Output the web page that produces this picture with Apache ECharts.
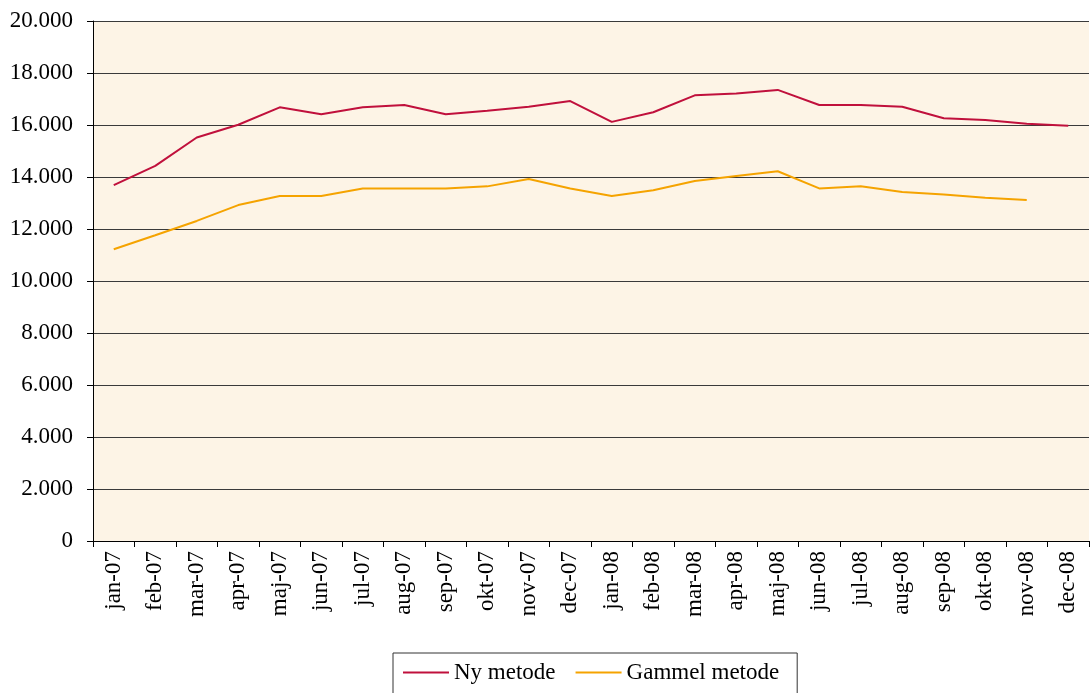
<!DOCTYPE html>
<html>
<head>
<meta charset="utf-8">
<script src="https://cdn.jsdelivr.net/npm/echarts@6/dist/echarts.min.js"></script>
<style>
  html, body { margin: 0; padding: 0; background: #ffffff; }
  #chart { width: 1090px; height: 693px; }
</style>
</head>
<body>
<div id="chart"></div>
<script>
var months = ["jan-07", "feb-07", "mar-07", "apr-07", "maj-07", "jun-07", "jul-07", "aug-07",
  "sep-07", "okt-07", "nov-07", "dec-07", "jan-08", "feb-08", "mar-08", "apr-08",
  "maj-08", "jun-08", "jul-08", "aug-08", "sep-08", "okt-08", "nov-08", "dec-08"];

var nyMetode = [13690, 14430, 15520, 16010, 16680, 16410, 16680, 16770, 16410, 16550, 16700, 16920,
  16120, 16490, 17140, 17210, 17350, 16770, 16770, 16700, 16260, 16190, 16050, 15970];

var gammelMetode = [11220, 11760, 12310, 12920, 13270, 13270, 13560, 13560, 13560, 13640, 13920, 13560,
  13270, 13490, 13850, 14040, 14220, 13560, 13640, 13420, 13330, 13200, 13120, null];

var seriesNames = ["Ny metode", "Gammel metode"];

var serif = "'Liberation Serif', 'DejaVu Serif', serif";

function dots(v) {
  return String(v).replace(/\B(?=(\d{3})+(?!\d))/g, ".");
}

var chart = echarts.init(document.getElementById("chart"));
chart.setOption({
  animation: false,
  backgroundColor: "#ffffff",
  grid: {
    left: 93, top: 21, right: 1, bottom: 152,
    show: true, backgroundColor: "#fdf4e6", borderWidth: 0
  },
  legend: {
    data: seriesNames,
    left: 393, top: 653,
    icon: "rect", itemWidth: 46, itemHeight: 2, itemGap: 20,
    padding: [8, 18, 12, 10],
    borderColor: "#333333", borderWidth: 1,
    textStyle: { fontFamily: serif, fontSize: 23, color: "#000000" }
  },
  xAxis: {
    type: "category",
    data: months,
    boundaryGap: true,
    axisLine: { lineStyle: { color: "#000000", width: 1 } },
    axisTick: { show: true, interval: 0, length: 6, lineStyle: { color: "#000000" } },
    axisLabel: {
      interval: 0, rotate: 90, margin: 10,
      fontFamily: serif, fontSize: 23, color: "#000000"
    },
    splitLine: { show: false }
  },
  yAxis: {
    type: "value",
    min: 0, max: 20000, interval: 2000,
    axisLine: { show: true, lineStyle: { color: "#000000", width: 1 } },
    axisTick: { show: true, length: 6, lineStyle: { color: "#000000" } },
    axisLabel: {
      margin: 20, fontFamily: serif, fontSize: 23, color: "#000000",
      formatter: dots
    },
    splitLine: { show: true, lineStyle: { color: "#3a3a3a", width: 1 } }
  },
  series: [
    {
      name: seriesNames[0], type: "line", data: nyMetode,
      showSymbol: false, symbol: "none",
      itemStyle: { color: "#c0103c" },
      lineStyle: { color: "#c0103c", width: 2 }
    },
    {
      name: seriesNames[1], type: "line", data: gammelMetode,
      showSymbol: false, symbol: "none",
      itemStyle: { color: "#f5a300" },
      lineStyle: { color: "#f5a300", width: 2 }
    }
  ]
});
</script>
</body>
</html>
